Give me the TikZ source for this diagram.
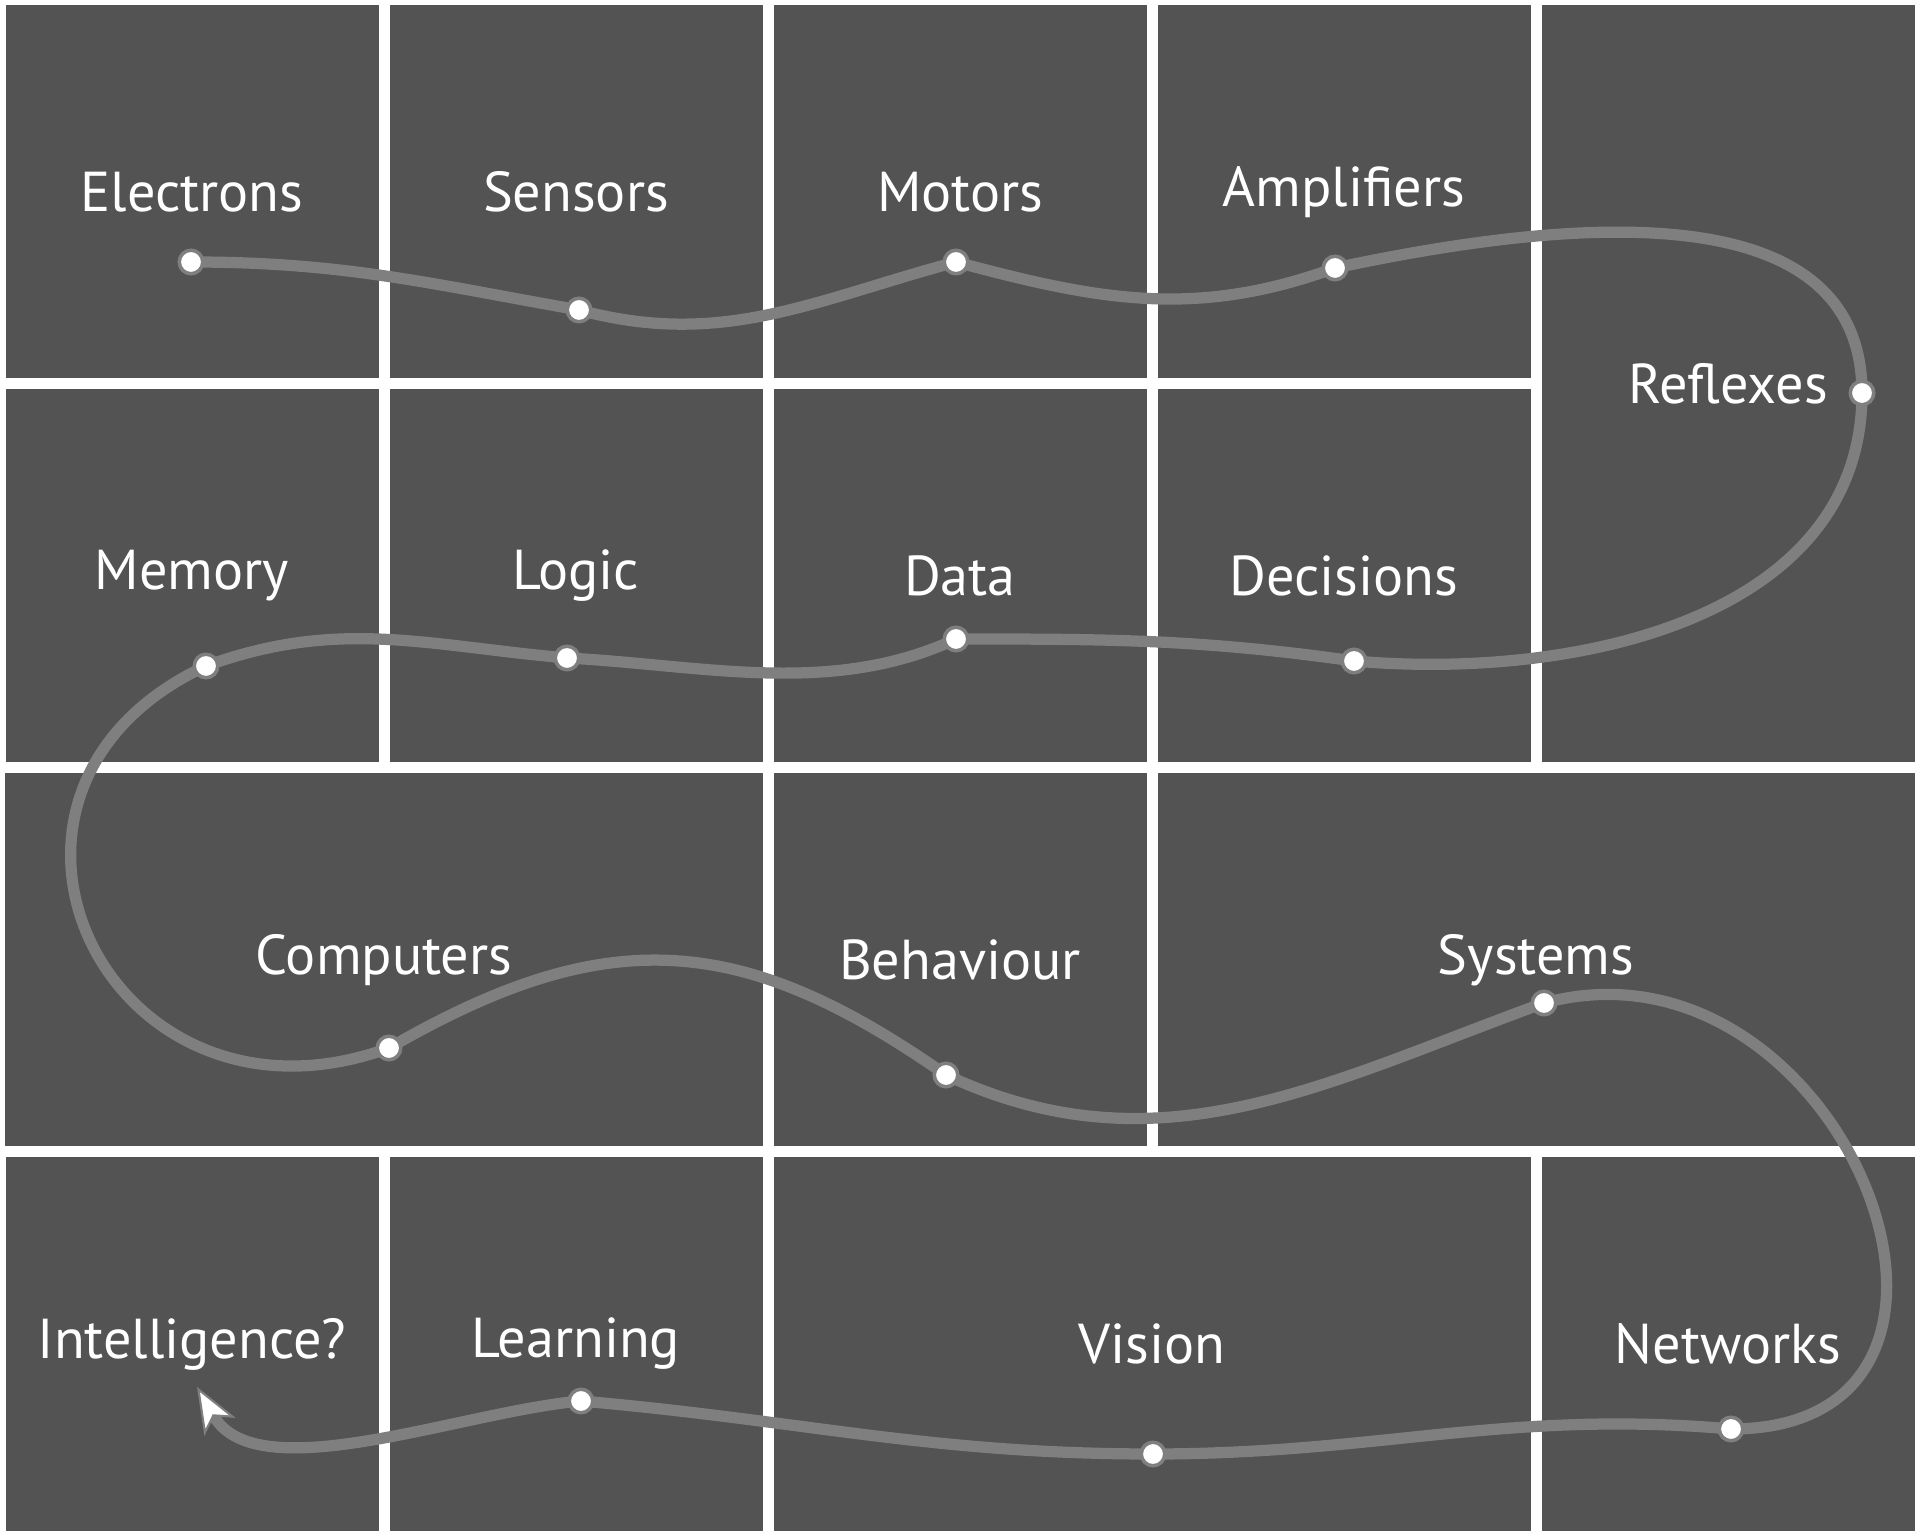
\documentclass[tikz,border=0pt]{standalone}
\usepackage{fontspec}
\setmainfont{PT Sans}
\usetikzlibrary{arrows.meta}
\definecolor{tilegray}{HTML}{535353}
\definecolor{roadgray}{HTML}{7F7F7F}
\begin{document}
\begin{tikzpicture}
\tikzstyle{tile}=[rectangle,fill=tilegray,text=white,minimum width=3.73cm,minimum height=3.73cm,inner sep=0pt,font=\fontsize{16}{19}\selectfont]
\tikzstyle{tilewide}=[tile,minimum width=7.57cm]
\tikzstyle{tiletall}=[tile,minimum height=7.57cm]
\tikzstyle{stopdot}=[circle,fill=white,draw=roadgray,line width=1pt,minimum size=0.235cm,inner sep=0pt]
\tikzstyle{road}=[draw=roadgray,line width=3.2pt]
\fill[white] (0,0) rectangle (19.19,15.35);
\useasboundingbox (0,0) rectangle (19.19,15.35);
% tiles
\node[tile] (electrons) at (1.92,13.43) {Electrons};
\node[tile] (sensors) at (5.76,13.43) {Sensors};
\node[tile] (motors) at (9.60,13.43) {Motors};
\node[tile] (amplifiers) at (13.44,13.43) {Amplifiers};
\node[tiletall] (reflexes) at (17.28,11.51) {Reflexes};
\node[tile] (memory) at (1.92,9.59) {Memory};
\node[tile] (logic) at (5.76,9.59) {Logic};
\node[tile] (data) at (9.60,9.59) {Data};
\node[tile] (decisions) at (13.44,9.59) {Decisions};
\node[tilewide] (computers) at (3.84,5.75) {Computers};
\node[tile] (behaviour) at (9.60,5.75) {Behaviour};
\node[tilewide] (systems) at (15.36,5.75) {Systems};
\node[tile] (intelligence) at (1.92,1.91) {Intelligence?};
\node[tile] (learning) at (5.76,1.91) {Learning};
\node[tilewide] (vision) at (11.52,1.91) {Vision};
\node[tile] (networks) at (17.28,1.91) {Networks};
% stops on the road
\coordinate (el) at (1.91,12.73);
\coordinate (se) at (5.79,12.25);
\coordinate (mo) at (9.56,12.73);
\coordinate (am) at (13.35,12.67);
\coordinate (re) at (18.62,11.42);
\coordinate (de) at (13.54,8.74);
\coordinate (da) at (9.56,8.96);
\coordinate (lo) at (5.67,8.77);
\coordinate (me) at (2.06,8.69);
\coordinate (co) at (3.89,4.87);
\coordinate (be) at (9.46,4.60);
\coordinate (sy) at (15.44,5.32);
\coordinate (ne) at (17.31,1.06);
\coordinate (vi) at (11.53,0.81);
\coordinate (le) at (5.81,1.34);
\coordinate (tip) at (1.97,1.48);
\draw[road,-{Stealth[length=4.6mm,width=3.6mm,inset=1.2mm,fill=white,line width=0.6pt]}]
  (el) to[out=0,in=170] (se)
  to[out=-15,in=195] (mo)
  to[out=-15,in=200] (am)
  to[out=12,in=90] (re)
  to[out=-90,in=-5] (de)
  to[out=172,in=0] (da)
  to[out=205,in=-3,looseness=0.9] (lo)
  to[out=175,in=20] (me)
  to[out=205,in=200,looseness=1.8] (co)
  to[out=30,in=145,looseness=1.15] (be)
  to[out=-25,in=200] (sy)
  to[out=15,in=0,looseness=1.7] (ne)
  to[out=175,in=0] (vi)
  to[out=180,in=-5] (le)
  to[out=185,in=-60,looseness=0.8] (tip);
\foreach \p in {el,se,mo,am,re,de,da,lo,me,co,be,sy,ne,vi,le}
  \node[stopdot] (\p-dot) at (\p) {};
\end{tikzpicture}
\end{document}
